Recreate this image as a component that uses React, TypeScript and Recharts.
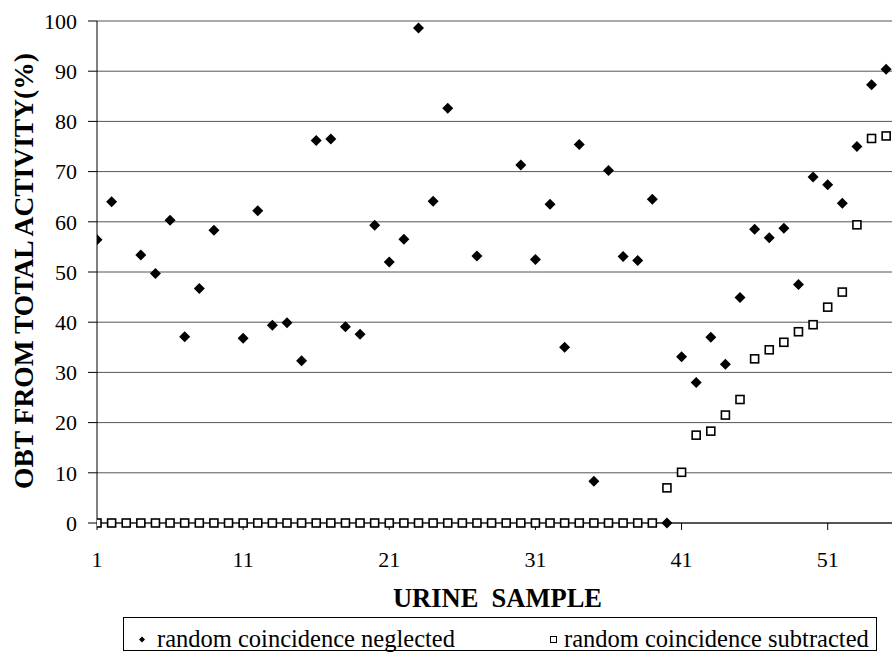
import React from 'react'
import { ScatterChart, Scatter, XAxis, YAxis, CartesianGrid } from 'recharts'

// urine sample numbers 1..55
const samples = [
  1, 2, 3, 4, 5, 6, 7, 8, 9, 10, 11, 12, 13, 14, 15, 16, 17, 18, 19, 20,
  21, 22, 23, 24, 25, 26, 27, 28, 29, 30, 31, 32, 33, 34, 35, 36, 37, 38, 39, 40,
  41, 42, 43, 44, 45, 46, 47, 48, 49, 50, 51, 52, 53, 54, 55,
]

// random coincidence neglected (null = no visible point)
const neglected: (number | null)[] = [
  56.4, 64.0, null, 53.4, 49.7, 60.3, 37.1, 46.7, 58.3, null,
  36.8, 62.2, 39.4, 39.9, 32.3, 76.2, 76.5, 39.1, 37.6, 59.3,
  52.0, 56.5, 98.6, 64.1, 82.6, null, 53.2, null, null, 71.3,
  52.5, 63.5, 35.0, 75.4, 8.3, 70.2, 53.1, 52.3, 64.5, 0,
  33.1, 28.0, 37.0, 31.6, 44.9, 58.5, 56.8, 58.7, 47.5, 68.9,
  67.4, 63.7, 75.0, 87.3, 90.4,
]

// random coincidence subtracted
const subtracted = [
  0, 0, 0, 0, 0, 0, 0, 0, 0, 0,
  0, 0, 0, 0, 0, 0, 0, 0, 0, 0,
  0, 0, 0, 0, 0, 0, 0, 0, 0, 0,
  0, 0, 0, 0, 0, 0, 0, 0, 0, 7.0,
  10.1, 17.5, 18.3, 21.5, 24.6, 32.7, 34.5, 36.0, 38.1, 39.5,
  43.0, 46.0, 59.4, 76.6, 77.1,
]

const xTicks = [1, 11, 21, 31, 41, 51]
const yTicks = [0, 10, 20, 30, 40, 50, 60, 70, 80, 90, 100]

const seriesNames = ['random coincidence neglected', 'random coincidence subtracted']

// no serif face in the sandbox, so this ends up on Liberation Sans
const FONT = "'Liberation Serif', 'Times New Roman', 'Liberation Sans', sans-serif"
const serif = { fontFamily: FONT }

const neglectedData = samples
  .map((s, i) => ({ x: s, y: neglected[i] }))
  .filter((p) => p.y !== null)
const subtractedData = samples.map((s, i) => ({ x: s, y: subtracted[i] }))

const Diamond = (props: any) => {
  const { cx, cy } = props
  const r = 5.5
  return (
    <path
      d={`M${cx},${cy - r}L${cx + r},${cy}L${cx},${cy + r}L${cx - r},${cy}Z`}
      fill="#000"
    />
  )
}

const Square = (props: any) => {
  const { cx, cy } = props
  const s = 8
  return (
    <rect
      x={cx - s / 2}
      y={cy - s / 2}
      width={s}
      height={s}
      fill="#fff"
      stroke="#000"
      strokeWidth={1.6}
    />
  )
}

const XTitle = (props: any) => {
  const vb = props.viewBox
  return (
    <text
      x={vb.x + vb.width / 2 + 3}
      y={607}
      textAnchor="middle"
      fontWeight="bold"
      fontSize={26.5}
      fill="#000"
      style={{ ...serif, whiteSpace: 'pre' }}
    >
      {'URINE  SAMPLE'}
    </text>
  )
}

const YTitle = () => (
  <text
    x={33}
    y={271}
    transform="rotate(-90, 33, 271)"
    textAnchor="middle"
    fontWeight="bold"
    fontSize={27.5}
    fill="#000"
    style={serif}
  >
    OBT FROM TOTAL ACTIVITY(%)
  </text>
)

export default function App() {
  return (
    <div
      style={{
        position: 'absolute',
        left: 0,
        top: 0,
        width: 892,
        height: 652,
        background: '#fff',
        overflow: 'hidden',
        ...serif,
      }}
    >
      <ScatterChart
        width={892}
        height={652}
        margin={{ top: 21, right: 0, bottom: 0, left: 0 }}
        style={serif}
      >
        <CartesianGrid vertical={false} stroke="#555" />
        <XAxis
          type="number"
          dataKey="x"
          domain={[1, 55.4]}
          ticks={xTicks}
          allowDataOverflow
          height={129}
          tickSize={7}
          tickMargin={21}
          axisLine={{ stroke: '#000' }}
          tickLine={{ stroke: '#000' }}
          tick={{ fill: '#000', fontSize: 22, style: serif }}
          label={<XTitle />}
        />
        <YAxis
          type="number"
          dataKey="y"
          domain={[0, 100]}
          ticks={yTicks}
          width={97}
          tickSize={9}
          tickMargin={11}
          axisLine={{ stroke: '#000' }}
          tickLine={{ stroke: '#000' }}
          tick={{ fill: '#000', fontSize: 22, style: serif }}
          label={<YTitle />}
        />
        <Scatter
          name={seriesNames[0]}
          data={neglectedData}
          shape={Diamond}
          isAnimationActive={false}
        />
        <Scatter
          name={seriesNames[1]}
          data={subtractedData}
          shape={Square}
          isAnimationActive={false}
        />
      </ScatterChart>
      <svg
        width={892}
        height={652}
        style={{ position: 'absolute', left: 0, top: 0, pointerEvents: 'none' }}
      >
        <rect x={123.5} y={617.5} width={753} height={33} fill="none" stroke="#000" />
        <path d="M142,636.5L145,639.5L142,642.5L139,639.5Z" fill="#000" />
        <text x={157} y={647} fontSize={24.5} fill="#000" style={serif}>
          {seriesNames[0]}
        </text>
        <rect x={550.5} y={636.5} width={6} height={6} fill="#fff" stroke="#000" />
        <text x={564} y={647} fontSize={24.5} fill="#000" style={serif}>
          {seriesNames[1]}
        </text>
      </svg>
    </div>
  )
}
